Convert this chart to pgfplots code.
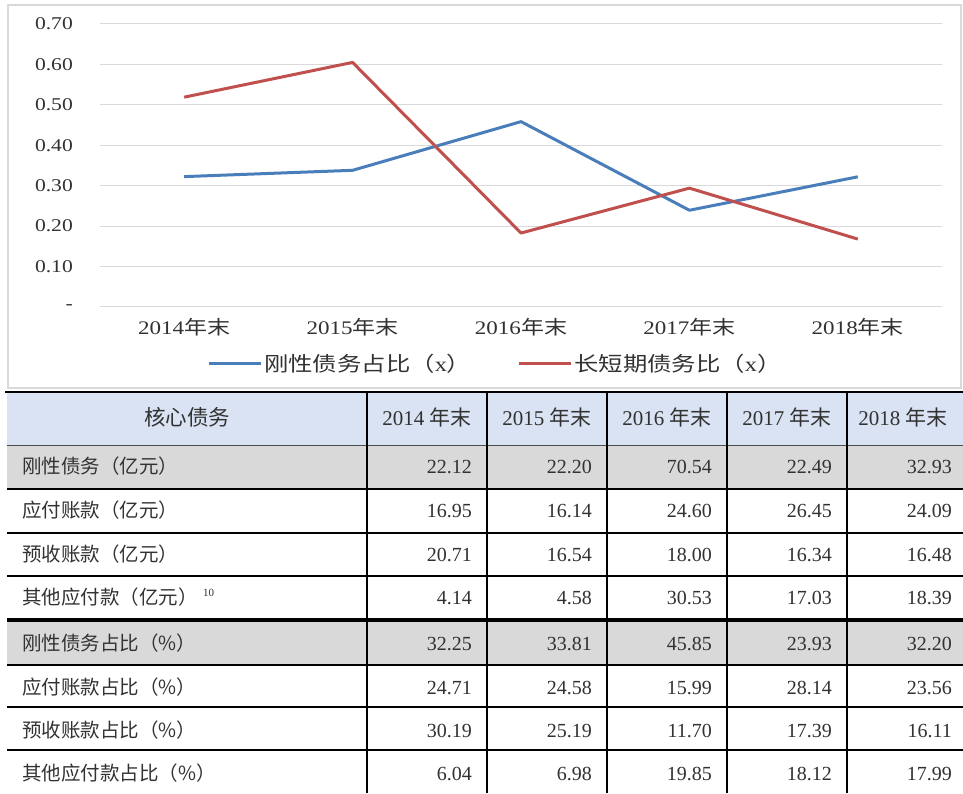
\documentclass[border=0pt]{standalone}
\usepackage{pgfplots}
\pgfplotsset{compat=1.18}
\usepackage{fontspec}
\usepackage{graphicx}
\setmainfont{Liberation Serif}
\newfontfamily\cjk{Noto Sans CJK SC}
\newcommand\zh[1]{{\cjk #1}}
\newcommand\cl[1]{\scalebox{1.2}[1]{#1}}
\definecolor{blueL}{RGB}{74,126,187}
\definecolor{redL}{RGB}{192,80,77}
\definecolor{hdr}{RGB}{218,227,243}
\definecolor{rowg}{RGB}{217,217,217}
\definecolor{gridc}{RGB}{217,217,217}
\definecolor{txt}{RGB}{50,50,50}
\begin{document}
\begin{tikzpicture}[x=1pt,y=1pt]
\path[use as bounding box, fill=white] (0,0) rectangle (963,793);
\draw[gridc, line width=1.5pt] (8,788) rectangle (961,405);
\begin{axis}[
  scale only axis, width=842pt, height=283pt,
  at={(100pt,486pt)}, anchor=south west,
  xmin=-0.5, xmax=4.5, ymin=0, ymax=0.7,
  axis line style={draw=none},
  major tick length=0pt,
  ymajorgrids, grid style={gridc, line width=1pt},
  ytick={0,0.1,0.2,0.3,0.4,0.5,0.6,0.7},
  yticklabels={{\cl{-}\hspace{11pt}},\cl{0.10},\cl{0.20},\cl{0.30},\cl{0.40},\cl{0.50},\cl{0.60},\cl{0.70}},
  xtick={0,1,2,3,4},
  xticklabels={\cl{2014\zh{年末}},\cl{2015\zh{年末}},\cl{2016\zh{年末}},\cl{2017\zh{年末}},\cl{2018\zh{年末}}},
  yticklabel style={inner sep=0pt, anchor=east, xshift=-27pt, text=txt, font=\fontsize{18}{20}\selectfont},
  xticklabel style={inner sep=0pt, anchor=north, yshift=-11pt, text=txt, font=\fontsize{19.2}{20}\selectfont},
  legend style={at={(0.4695,-0.201)}, anchor=center, draw=none, fill=none,
    legend columns=2, font=\fontsize{20.3}{22}\selectfont, text=txt,
    /tikz/every even column/.append style={column sep=44pt}},
  legend image code/.code={\draw[#1, line width=3pt] (0pt,0pt) -- (52pt,0pt);},
]
\addplot[blueL, line width=3pt, line join=round] coordinates {(0,0.3225) (1,0.3381) (2,0.4585) (3,0.2393) (4,0.3220)};
\addlegendentry{\cl{\zh{刚性债务占比（}x\zh{）}}}
\addplot[redL, line width=3pt, line join=round] coordinates {(0,0.519) (1,0.605) (2,0.183) (3,0.294) (4,0.168)};
\addlegendentry{\cl{\zh{长短期债务比（}x\zh{）}}}
\end{axis}
% table backgrounds
\fill[hdr] (7,401) rectangle (963,347);
\fill[rowg] (7,347) rectangle (963,304);
\fill[rowg] (7,173) rectangle (963,128);
% horizontal rules
\draw[black, line width=2pt] (5,401) -- (963,401);
\draw[black!70, line width=1pt] (7,347) -- (963,347);
\foreach \yy in {304,260,217,128,86,43} {\draw[black, line width=2pt] (7,\yy) -- (963,\yy);}
\draw[black, line width=4pt] (7,173) -- (963,173);
% vertical rules
\foreach \xx in {367,487,607,727,847} {\draw[black, line width=2pt] (\xx,401) -- (\xx,0);}
% header
\node[anchor=base, inner sep=0pt, text=txt] at (187,367) {\fontsize{21.5}{22}\selectfont\cjk 核心债务};
\foreach \xc/\yr in {427/2014,547/2015,667/2016,787/2017,903/2018}
  {\node[anchor=base, inner sep=0pt, text=txt] at (\xc,367) {\fontsize{21}{22}\selectfont \yr\ \zh{年末}};}
% rows
\foreach \yb/\lab/\a/\b/\c/\d/\e in {
  319/{刚性债务（亿元）}/22.12/22.20/70.54/22.49/32.93,
  276/{应付账款（亿元）}/16.95/16.14/24.60/26.45/24.09,
  232/{预收账款（亿元）}/20.71/16.54/18.00/16.34/16.48,
  189/{其他应付款（亿元）}/4.14/4.58/30.53/17.03/18.39,
  143/{刚性债务占比（\%）}/32.25/33.81/45.85/23.93/32.20,
  99/{应付账款占比（\%）}/24.71/24.58/15.99/28.14/23.56,
  56/{预收账款占比（\%）}/30.19/25.19/11.70/17.39/16.11,
  13/{其他应付款占比（\%）}/6.04/6.98/19.85/18.12/17.99}
{
  \node[anchor=base west, inner sep=0pt, text=txt] at (22,\yb) {\fontsize{19.5}{21}\selectfont\cjk \lab};
  \node[anchor=base east, inner sep=0pt, text=txt] at (472,\yb) {\fontsize{20}{22}\selectfont \a};
  \node[anchor=base east, inner sep=0pt, text=txt] at (592,\yb) {\fontsize{20}{22}\selectfont \b};
  \node[anchor=base east, inner sep=0pt, text=txt] at (712,\yb) {\fontsize{20}{22}\selectfont \c};
  \node[anchor=base east, inner sep=0pt, text=txt] at (832,\yb) {\fontsize{20}{22}\selectfont \d};
  \node[anchor=base east, inner sep=0pt, text=txt] at (952,\yb) {\fontsize{20}{22}\selectfont \e};
}
\node[anchor=base west, inner sep=0pt, text=txt] at (203,197) {\fontsize{11}{12}\selectfont 10};
\end{tikzpicture}
\end{document}
